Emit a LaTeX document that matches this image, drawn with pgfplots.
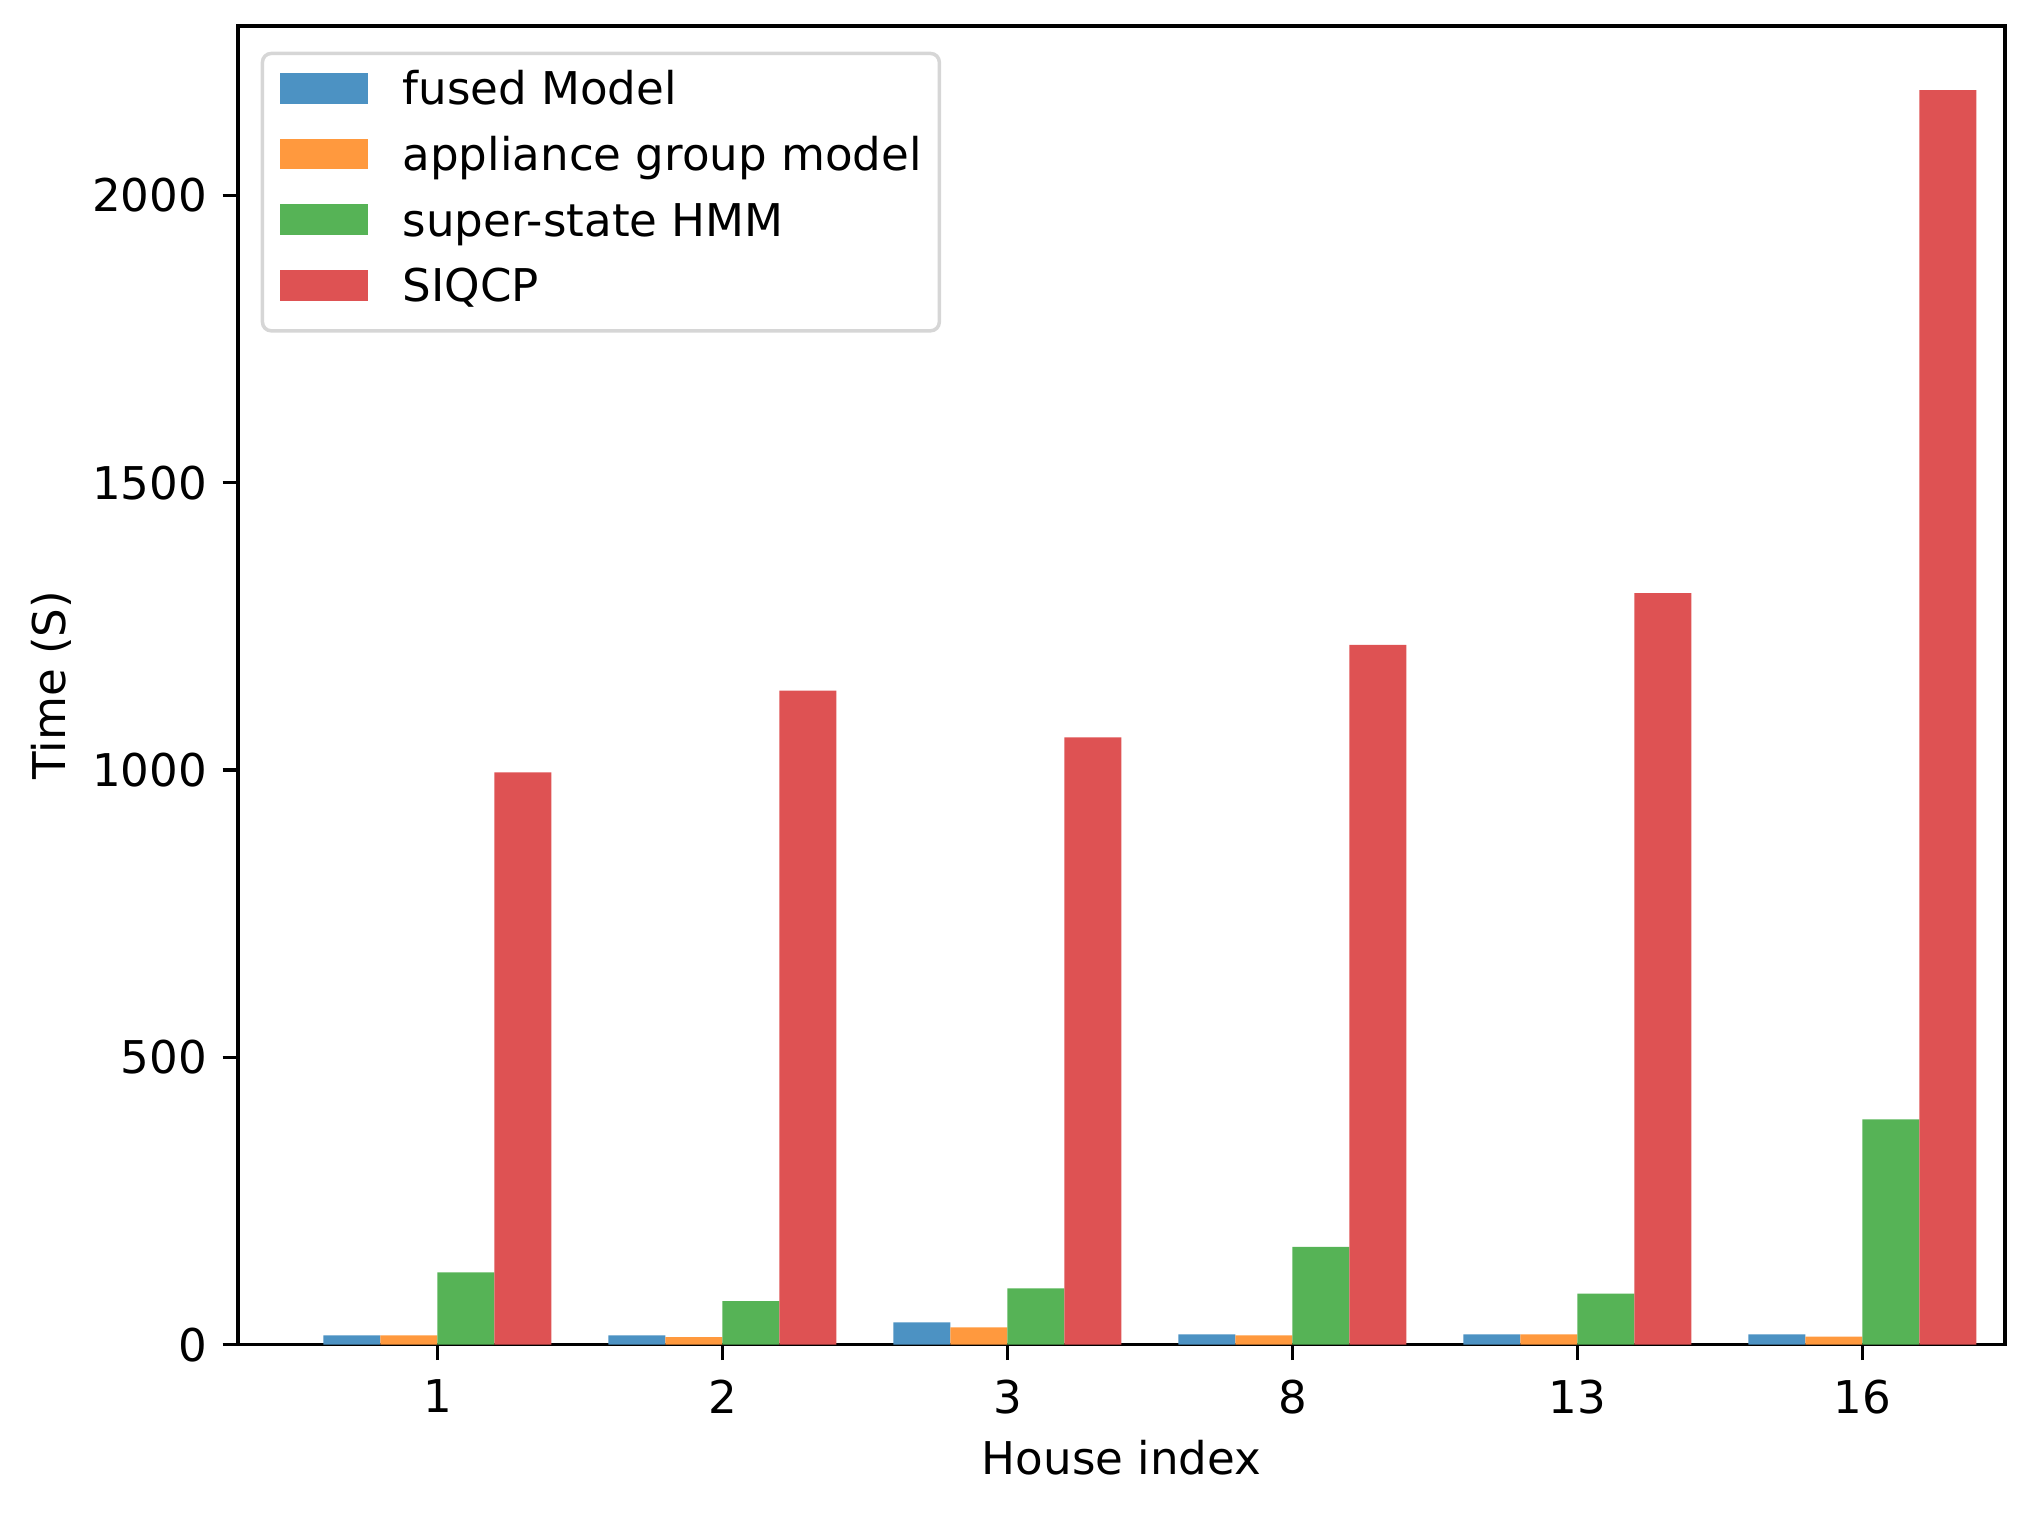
\documentclass[border=0pt]{standalone}
\usepackage{fontspec}
\setmainfont{DejaVu Sans}
\usepackage{pgfplots}
\pgfplotsset{compat=1.18}
\definecolor{cblue}{RGB}{76,146,195}
\definecolor{corange}{RGB}{255,153,62}
\definecolor{cgreen}{RGB}{86,179,86}
\definecolor{cred}{RGB}{222,82,83}
\definecolor{lgframe}{RGB}{214,214,214}
\begin{document}
\begin{tikzpicture}
\path[use as bounding box] (-54.3pt,-38.6pt) rectangle (406.5pt,306.9pt);
\begin{axis}[
  at={(0,0)}, anchor=south west,
  scale only axis, width=403.3pt, height=301pt,
  xmin=-0.7, xmax=5.5, ymin=0, ymax=2295,
  xtick={0,1,2,3,4,5}, xticklabels={1,2,3,8,13,16},
  ytick={0,500,1000,1500,2000},
  tick align=outside, tick pos=left,
  major tick length=3.5pt,
  every tick/.style={black, line width=0.8pt},
  axis line style={line width=0.8pt},
  /pgf/number format/assume math mode=true,
  /pgf/number format/1000 sep={},
  ticklabel style={font=\fontsize{10.3}{12.4}\selectfont},
  xticklabel style={yshift=-1pt},
  label style={font=\fontsize{10.3}{12.4}\selectfont},
  xlabel={House index}, ylabel={Time (S)},
  xlabel style={at={(axis description cs:0.5,-0.0854)}, anchor=center},
  ylabel style={at={(axis description cs:-0.1056,0.5)}, anchor=center},
  ybar, bar width=0.2,
  legend style={at={(axis description cs:0.0129,0.9804)}, anchor=north west,
    draw=lgframe, line width=0.8pt, rounded corners=2pt, fill=white,
    font=\fontsize{10.3}{12.4}\selectfont,
    inner xsep=4pt, inner ysep=4pt, row sep=4.7pt, column sep=8pt,
    nodes={inner sep=0pt, text height=7.7pt, text depth=2.6pt}},
  legend cell align=left,
  legend image code/.code={\path[#1, draw=none, sharp corners] (0pt,-2.3pt) rectangle (20pt,4.7pt);},
]
\addplot[fill=cblue, draw=none, bar shift=-0.3] coordinates {(0,16) (1,16) (2,39) (3,18) (4,18) (5,18)};
\addlegendentry{fused Model}
\addplot[fill=corange, draw=none, bar shift=-0.1] coordinates {(0,16) (1,13) (2,30) (3,16) (4,18) (5,14)};
\addlegendentry{appliance group model}
\addplot[fill=cgreen, draw=none, bar shift=0.1] coordinates {(0,126) (1,76) (2,98) (3,170) (4,89) (5,392)};
\addlegendentry{super-state HMM}
\addplot[fill=cred, draw=none, bar shift=0.3] coordinates {(0,996) (1,1138) (2,1057) (3,1218) (4,1308) (5,2183)};
\addlegendentry{SIQCP}
\end{axis}
\end{tikzpicture}
\end{document}
